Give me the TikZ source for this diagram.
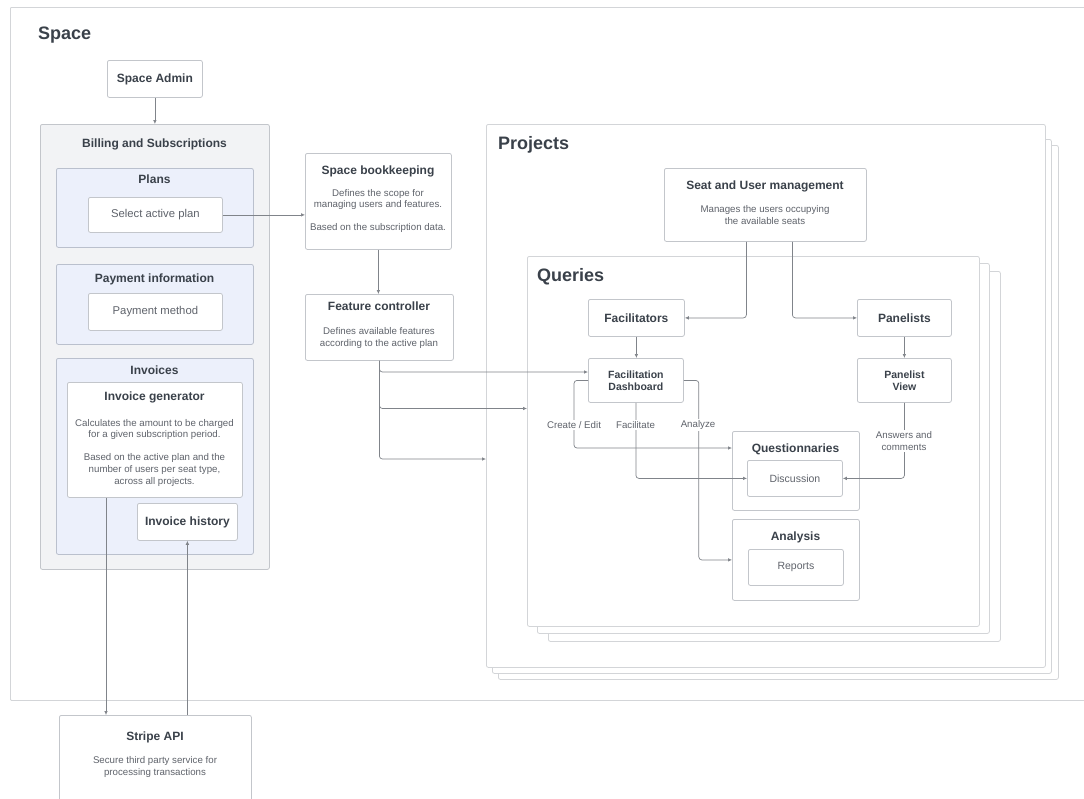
\documentclass[tikz,border=0pt]{standalone}
\usepackage{fontspec}
\setmainfont{Liberation Sans}
\usetikzlibrary{arrows.meta}
\definecolor{colTitle}{HTML}{3A414A}
\definecolor{colBody}{HTML}{5F636B}
\definecolor{colLine}{HTML}{C3C6CB}
\definecolor{colFrame}{HTML}{D3D5D8}
\definecolor{colGray}{HTML}{F2F3F5}
\definecolor{colBlue}{HTML}{ECF0FB}
\definecolor{colBlueLine}{HTML}{BAC0CD}
\definecolor{colConn}{HTML}{80848A}
\newcommand{\fbig}{\fontsize{18}{21}\selectfont\bfseries}
\newcommand{\ftitle}{\fontsize{12}{14}\selectfont\bfseries}
\newcommand{\fsmalltitle}{\fontsize{10.5}{12.2}\selectfont\bfseries}
\newcommand{\fitem}{\fontsize{11.3}{13.5}\selectfont}
\newcommand{\fsmallitem}{\fontsize{10.5}{12.5}\selectfont}
\newcommand{\fbody}{\fontsize{9.7}{11.6}\selectfont}
\begin{document}
\begin{tikzpicture}[x=1pt,y=-1pt,
  box/.style={draw=colLine, fill=white, rounded corners=2pt, line width=0.8pt, anchor=north west, inner sep=0pt, text=colTitle},
  grp/.style={box, fill=colGray},
  sub/.style={box, fill=colBlue, draw=colBlueLine},
  frame/.style={box, draw=colFrame},
  ttl/.style={font=\ftitle, text=colTitle, inner sep=0pt, anchor=base},
  big/.style={font=\fbig, text=colTitle, inner sep=0pt, anchor=base west},
  bodytext/.style={font=\fbody, text=colBody, align=center, inner sep=0pt},
  lbl/.style={font=\fbody, text=colBody, align=center, fill=white, inner sep=1.5pt},
  conn/.style={draw=colConn, line width=0.7pt, rounded corners=3pt, -{Latex[length=4pt,width=3.6pt]}}
]
\clip (0,0) rectangle (1084,798);
\fill[white] (0,0) rectangle (1084,798);

% Space frame
\node[frame, rounded corners=1pt, fill=none, minimum width=1100pt, minimum height=693pt] (space) at (10,7) {};
\node[big] (spaceT) at (38,39.5) {Space};

\node[box, font=\ftitle, minimum width=95pt, minimum height=37pt] (sa) at (107,60) {Space Admin};

% Billing
\node[grp, minimum width=229pt, minimum height=445pt] (bill) at (40,124) {};
\node[ttl] (billT) at (154.5,147.5) {Billing and Subscriptions};

\node[sub, minimum width=197pt, minimum height=79pt] (plans) at (56,168) {};
\node[ttl] (plansT) at (154.5,183.5) {Plans};
\node[box, font=\fitem, text=colBody, minimum width=134pt, minimum height=35pt] (sel) at (88,197) {Select active plan};

\node[sub, minimum width=197pt, minimum height=80pt] (pay) at (56,264) {};
\node[ttl] (payT) at (154.5,282) {Payment information};
\node[box, font=\fitem, text=colBody, minimum width=134pt, minimum height=37pt] (pm) at (88,293) {Payment method};

\node[sub, minimum width=197pt, minimum height=196pt] (inv) at (56,358) {};
\node[ttl] (invT) at (154.5,374) {Invoices};
\node[box, minimum width=175pt, minimum height=115pt] (ig) at (67,382) {};
\node[ttl] (igT) at (154.5,400.7) {Invoice generator};
\node[bodytext] (igB) at (154.5,452.5) {Calculates the amount to be charged\\for a given subscription period.\\[11.6pt]Based on the active plan and the\\number of users per seat type,\\across all projects.};
\node[box, font=\ftitle, minimum width=100pt, minimum height=37pt] (ih) at (137,503) {Invoice history};

% Stripe
\node[box, minimum width=192pt, minimum height=115pt] (st) at (59,715) {};
\node[ttl] (stT) at (155,740.7) {Stripe API};
\node[bodytext] (stB) at (155,767) {Secure third party service for\\processing transactions};

% Bookkeeping and feature controller
\node[box, minimum width=146pt, minimum height=96pt] (bk) at (305,153) {};
\node[ttl] (bkT) at (378,174) {Space bookkeeping};
\node[bodytext] (bkB) at (378,211) {Defines the scope for\\managing users and features.\\[11.6pt]Based on the subscription data.};

\node[box, minimum width=148pt, minimum height=66pt] (fc) at (305,294) {};
\node[ttl] (fcT) at (379,310.7) {Feature controller};
\node[bodytext] (fcB) at (379,338) {Defines available features\\according to the active plan};

% Projects stack
\node[frame, minimum width=560pt, minimum height=534pt] (proj3) at (498,145) {};
\node[frame, minimum width=559pt, minimum height=534pt] (proj2) at (492,139) {};
\node[frame, minimum width=559pt, minimum height=543pt] (proj) at (486,124) {};
\node[big] (projT) at (498,149) {Projects};

\node[box, minimum width=202pt, minimum height=73pt] (seat) at (664,168) {};
\node[ttl] (seatT) at (765,189) {Seat and User management};
\node[bodytext] (seatB) at (765,215) {Manages the users occupying\\the available seats};

% Queries stack
\node[frame, minimum width=452pt, minimum height=370pt] (q3) at (548,271) {};
\node[frame, minimum width=452pt, minimum height=370pt] (q2) at (537,263) {};
\node[frame, minimum width=452pt, minimum height=370pt] (q) at (527,256) {};
\node[big] (qT) at (537,281.5) {Queries};

\node[box, font=\ftitle, minimum width=96pt, minimum height=37pt] (fac) at (588,299) {Facilitators};
\node[box, font=\ftitle, minimum width=94pt, minimum height=37pt] (pan) at (857,299) {Panelists};
\node[box, font=\fsmalltitle, align=center, minimum width=95pt, minimum height=44pt] (fd) at (588,358) {Facilitation\\Dashboard};
\node[box, font=\fsmalltitle, align=center, minimum width=94pt, minimum height=44pt] (pv) at (857,358) {Panelist\\View};

\node[box, minimum width=127pt, minimum height=79pt] (qn) at (732,431) {};
\node[ttl] (qnT) at (795.5,452.3) {Questionnaries};
\node[box, font=\fsmallitem, text=colBody, minimum width=95pt, minimum height=36pt] (disc) at (747,460) {Discussion};

\node[box, minimum width=127pt, minimum height=81pt] (an) at (732,519) {};
\node[ttl] (anT) at (795.5,540) {Analysis};
\node[box, font=\fsmallitem, text=colBody, minimum width=95pt, minimum height=36pt] (rep) at (748,549) {Reports};

% Connectors
\draw[conn] (sa.south) -- (bill.north);
\draw[conn] (sel.east) -- (sel.east -| bk.west);
\draw[conn] (bk.south) -- (bk.south |- fc.north);
\draw[conn] (fc.south) |- (fd.west |- 0,372);
\draw[conn] (fc.south) |- (q.west |- 0,408.5);
\draw[conn] (fc.south) |- (proj.west |- 0,459);
\draw[conn] ([xshift=-19pt]seat.south) |- (fac.east);
\draw[conn] ([xshift=27pt]seat.south) |- (pan.west);
\draw[conn] (fac.south) -- (fac.south |- fd.north);
\draw[conn] (pan.south) -- (pan.south |- pv.north);
\draw[conn] (fd.west) -- ++(-14,0) |- (qn.west |- 0,448);
\draw[conn] (fd.south) |- (disc.west);
\draw[conn] (fd.east) -- ++(15,0) |- (an.west);
\draw[conn] (pv.south) |- (disc.east);
\draw[conn] (ig.south -| 106,0) -- (st.north -| 106,0);
\draw[conn] (ih.south |- st.north) -- (ih.south);

% Connector labels
\node[lbl] (lCreate) at (574,425) {Create / Edit};
\node[lbl] (lFac) at (635.5,425) {Facilitate};
\node[lbl] (lAna) at (698,425) {Analyze};
\node[lbl] (lAns) at (904,441) {Answers and\\comments};
\end{tikzpicture}
\end{document}
